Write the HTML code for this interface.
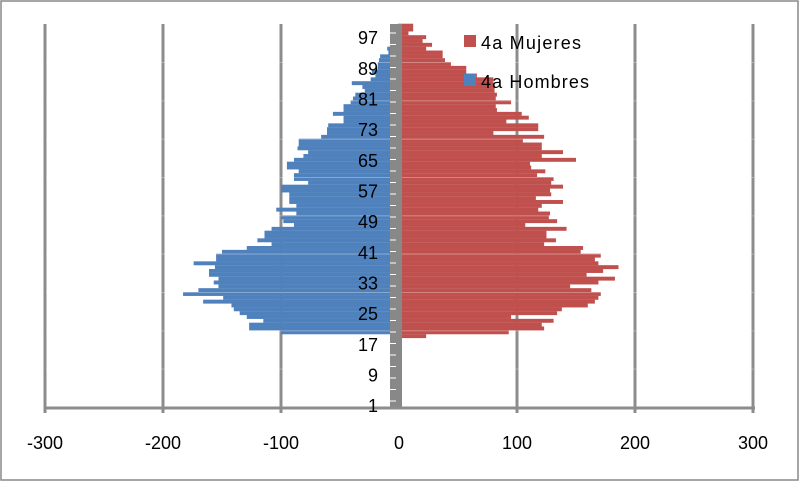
<!DOCTYPE html>
<html><head><meta charset="utf-8"><style>
body{margin:0;background:#fff}
svg text{font-family:"Liberation Sans",sans-serif;fill:#000}
</style></head><body>
<svg id="c" width="799" height="481" xmlns="http://www.w3.org/2000/svg">
<rect x="1" y="1" width="797" height="479" fill="#fff" stroke="#888" stroke-width="1.5"/>
<g id="grid"></g><g id="bars"></g><g id="axes"></g>
<g>
<rect x="464" y="35" width="12" height="12" fill="#c0504d"/>
<text x="481" y="49" font-size="18" textLength="100">4a Mujeres</text>
<rect x="464" y="74" width="12" height="12" fill="#4f81bd"/>
<text x="481" y="88" font-size="18" textLength="108">4a Hombres</text>
</g>
</svg>
<script>
const ages=[];for(let a=19;a<=100;a++)ages.push(a);
const hombres=[0,100,127,127,115,129,135,140,142,166,149,183,170,153,157,153,161,161,156,174,155,155,150,129,108,120,114,114,108,89,98,100,87,104,87,93,93,93,100,100,77,89,89,85,95,95,89,81,77,86,85,85,66,61,61,60,47,47,56,47,47,41,39,37,29,31,40,24,20,23,18,18,17,16,9,10,7,3,3,2,2,1];
const mujeres=[23,93,123,121,131,95,134,138,160,166,169,171,163,145,169,183,159,173,186,169,166,171,154,156,123,133,125,125,142,107,134,127,128,118,121,139,116,129,128,139,129,131,117,124,112,111,150,121,139,121,121,105,123,80,118,118,91,110,104,83,82,95,82,83,81,81,80,80,66,57,57,44,39,37,37,23,28,20,23,8,12,12];
const xTicks=[-300,-200,-100,0,100,200,300];
const yLabels=[1,9,17,25,33,41,49,57,65,73,81,89,97];
const NS="http://www.w3.org/2000/svg";
const X0=399,K=1.18,YB=407,RH=3.833;
const xs=v=>X0+v*K;
const yTop=a=>YB-a*RH;
function mk(t,at,p){const e=document.createElementNS(NS,t);for(const k in at)e.setAttribute(k,at[k]);p.appendChild(e);return e;}
const grid=document.getElementById('grid'),bars=document.getElementById('bars'),axes=document.getElementById('axes');
xTicks.forEach(v=>{if(v===0)return;
 const l=mk('line',{x1:xs(v),x2:xs(v),y1:24,y2:413,stroke:'#8c8c8c','stroke-width':3},grid);
 
 });
ages.forEach((a,i)=>{
 const y=yTop(a);
 const b=mk('rect',{x:xs(-hombres[i]),y:y,width:hombres[i]*K,height:RH+0.1,fill:'#4f81bd'},bars);
 
 
 const r=mk('rect',{x:xs(0),y:y,width:mujeres[i]*K,height:RH+0.1,fill:'#c0504d'},bars);
 
 
});
[10,20,30,40,50,60,70,80,90].forEach(a=>{
 const l=mk('line',{x1:46,x2:754,y1:yTop(a)+0.5,y2:yTop(a)+0.5,stroke:'rgba(255,255,255,0.3)','stroke-width':1},bars);
 
 
});
const ax=mk('rect',{x:390,y:24,width:12,height:YB-24,fill:'#888'},axes);


for(let y=YB-6;y>24;y-=11.5){const t=mk('line',{x1:390,x2:396,y1:y,y2:y,stroke:'#fff','stroke-width':1},axes);
 
 }
const xa=mk('line',{x1:45,x2:755,y1:YB+1,y2:YB+1,stroke:'#8c8c8c','stroke-width':3},axes);


xTicks.forEach(v=>{
 const t=mk('text',{x:xs(v),y:449,'font-size':18,'text-anchor':'middle'},axes);t.textContent=v;
 
 
});
yLabels.forEach(a=>{
 const t=mk('text',{x:378,y:yTop(a)+RH/2+7,'font-size':18,'text-anchor':'end'},axes);t.textContent=a;
 
 
});
</script>
</body></html>
